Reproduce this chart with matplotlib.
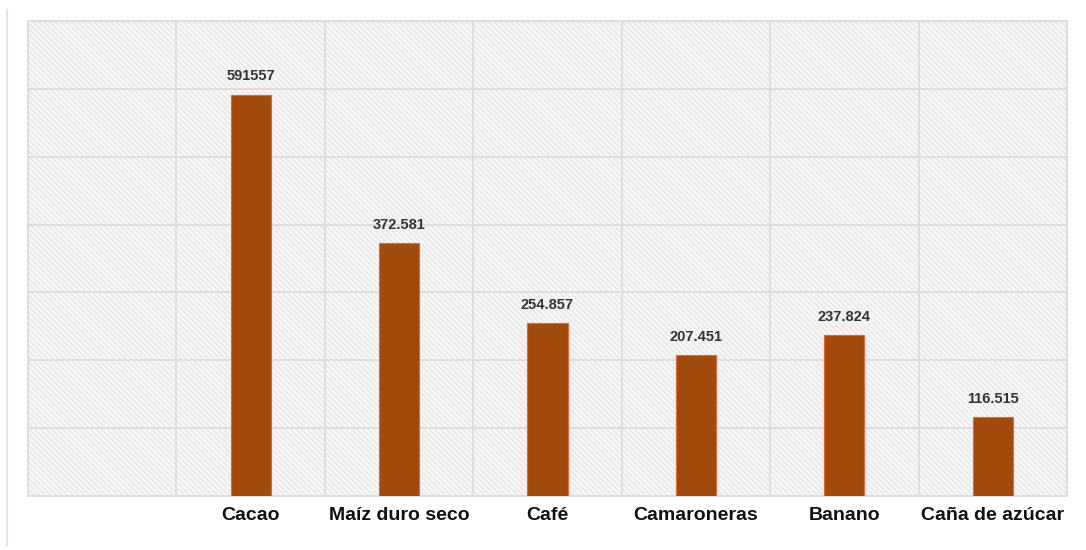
import matplotlib
matplotlib.use("Agg")
import matplotlib.pyplot as plt
from matplotlib.patches import Rectangle
from matplotlib.lines import Line2D
from matplotlib import font_manager

categories = ["Cacao", "Maíz duro seco", "Café", "Camaroneras", "Banano", "Caña de azúcar"]
values = [591557, 372581, 254857, 207451, 237824, 116515]
value_labels = ["591557", "372.581", "254.857", "207.451", "237.824", "116.515"]

names = {f.name for f in font_manager.fontManager.ttflist}
fam = "Liberation Sans Narrow" if "Liberation Sans Narrow" in names else "Liberation Sans"

W, H = 1086, 550
fig = plt.figure(figsize=(W / 100, H / 100), dpi=100)
ax = fig.add_axes([28 / W, (550 - 496) / H, (1067 - 28) / W, (496 - 21) / H])

ax.set_facecolor("#f6f6f6")
ax.add_patch(Rectangle((0, 0), 1, 1, transform=ax.transAxes, facecolor="none",
                       edgecolor="#e8e8e8", hatch="\\\\\\\\\\\\", linewidth=0, zorder=0))

x = list(range(1, len(categories) + 1))
ax.bar(x, values, width=0.27, color="#A14A0B", edgecolor="#E8643A", linewidth=0.8, zorder=3)

for xi, v, lab in zip(x, values, value_labels):
    ax.annotate(lab, (xi, v), xytext=(0, 8), textcoords="offset points",
                ha="center", va="bottom", fontsize=10.5, fontweight="bold",
                color="#333333", family=fam, zorder=4)

ax.set_xlim(-0.5, 6.5)
ax.set_ylim(0, 700000)
ax.set_xticks(x)
ax.set_xticklabels(categories, fontsize=14, fontweight="bold", family=fam, color="#111111")
ax.set_xticks([i - 0.5 for i in range(8)], minor=True)
ax.set_yticks(range(0, 700001, 100000))
ax.set_yticklabels([])
ax.tick_params(axis="both", which="both", length=0)
ax.tick_params(axis="x", which="major", pad=8)
ax.grid(True, which="minor", axis="x", color="#dcdcdc", linewidth=1.3, zorder=1)
ax.grid(True, which="major", axis="y", color="#dcdcdc", linewidth=1.3, zorder=1)
for s in ax.spines.values():
    s.set_color("#dcdcdc")
    s.set_linewidth(1.3)

fig.add_artist(Line2D([7 / W, 7 / W], [1 - 10 / H, 1 - 545 / H], color="#e4e4e4", linewidth=1.5))

fig.savefig("out.png", dpi=100)
